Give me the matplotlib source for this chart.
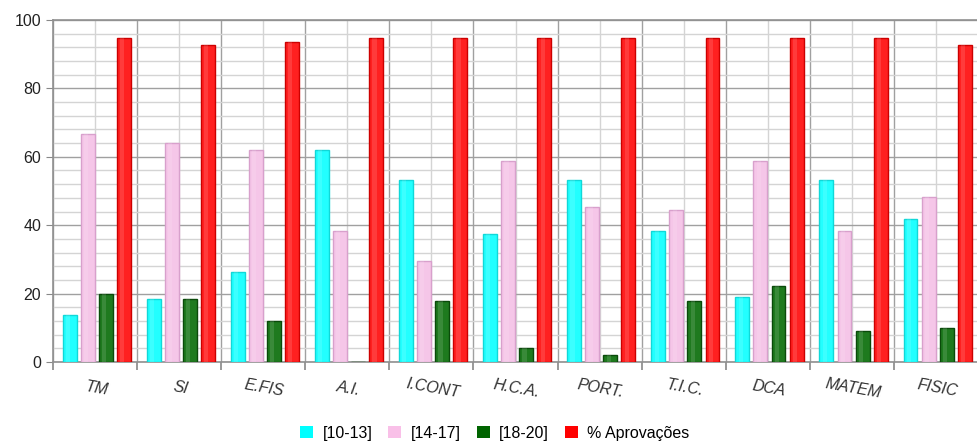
import matplotlib
matplotlib.use('Agg')
import matplotlib.pyplot as plt
import numpy as np
from matplotlib.ticker import MultipleLocator

plt.rcParams['font.family'] = ['Liberation Sans', 'DejaVu Sans']

# ── Data ──
disciplinas = ['TM', 'SI', 'E.FIS', 'A.I.', 'I.CONT', 'H.C.A.', 'PORT.',
               'T.I.C.', 'DCA', 'MATEM', 'FISIC']
series_names = ['[10-13]', '[14-17]', '[18-20]', '% Aprovações']
v_10_13 = [13.6, 18.3, 26.2, 61.9, 53.1, 37.4, 53.1, 38.2, 19.1, 53.1, 41.9]
v_14_17 = [66.8, 63.9, 61.9, 38.2, 29.4, 58.9, 45.2, 44.5, 58.9, 38.2, 48.2]
v_18_20 = [19.9, 18.3, 12.1, 0.0, 17.8, 4.2, 2.0, 17.8, 22.1, 9.1, 9.9]
v_aprov = [94.6, 92.7, 93.5, 94.6, 94.6, 94.6, 94.6, 94.6, 94.6, 94.6, 92.7]

# ── Styles ──
faces = ['#22FFFF', '#F5C6E8', '#1E7A1E', '#FF2020']
edges = ['#10D8D8', '#D8A0CC', '#0A4A0A', '#CC0000']
legend_faces = ['#00FFFF', '#F9C0E8', '#006400', '#FF0000']

fig = plt.figure(figsize=(9.78, 4.44), dpi=100)
ax = fig.add_axes([0.0542, 0.1847, 0.9458, 0.7703])

x = np.arange(len(disciplinas))
step, bw = 0.215, 0.165
all_vals = [v_10_13, v_14_17, v_18_20, v_aprov]
handles = []
for i, vals in enumerate(all_vals):
    off = (i - 1.5) * step + 0.02
    ax.bar(x + off, vals, bw, color=faces[i], edgecolor=edges[i],
           linewidth=1.0, zorder=3)
    # soft highlight stripe to mimic the glossy look
    ax.bar(x + off - bw * 0.12, vals, bw * 0.3, color='white', alpha=0.12,
           linewidth=0, zorder=4)
    handles.append(plt.Rectangle((0, 0), 1, 1, fc=legend_faces[i], ec='none'))

ax.set_xlim(-0.5, len(disciplinas) - 0.5)
ax.set_ylim(0, 100)

# grid: major every 20, minor every 4; verticals at boundaries and centres
ax.yaxis.set_major_locator(MultipleLocator(20))
ax.yaxis.set_minor_locator(MultipleLocator(4))
ax.grid(which='major', axis='y', color='#A0A0A0', lw=1.0, zorder=0)
ax.grid(which='minor', axis='y', color='#D4D4D4', lw=1.0, zorder=0)
for b in np.arange(-0.5, len(disciplinas), 1.0):
    ax.axvline(b, color='#A0A0A0', lw=1.0, zorder=0)
for c in x:
    ax.axvline(c, color='#D4D4D4', lw=1.0, zorder=0)

ax.set_xticks(np.arange(-0.5, len(disciplinas), 1.0))
ax.set_xticklabels([])
ax.tick_params(axis='x', which='major', length=6, color='#888888', width=1.2)
ax.tick_params(axis='y', which='major', length=5, color='#888888',
               labelsize=11.5, labelcolor='#222222')
ax.tick_params(axis='y', which='minor', length=0)
for i, name in enumerate(disciplinas):
    ax.text(i + 0.03, -5.5, name, ha='center', va='top', rotation=-10,
            style='italic', fontsize=11.5, color='#333333',
            rotation_mode='anchor')

ax.spines['right'].set_visible(False)
for s in ['left', 'bottom', 'top']:
    ax.spines[s].set_color('#909090')
    ax.spines[s].set_linewidth(1.2)

fig.legend(handles, series_names, loc='lower center', ncol=4, frameon=False,
           fontsize=11.5, handlelength=0.8, handleheight=0.8,
           handletextpad=0.6, columnspacing=1.0,
           bbox_to_anchor=(0.506, -0.025))

fig.savefig('out.png', dpi=100)
